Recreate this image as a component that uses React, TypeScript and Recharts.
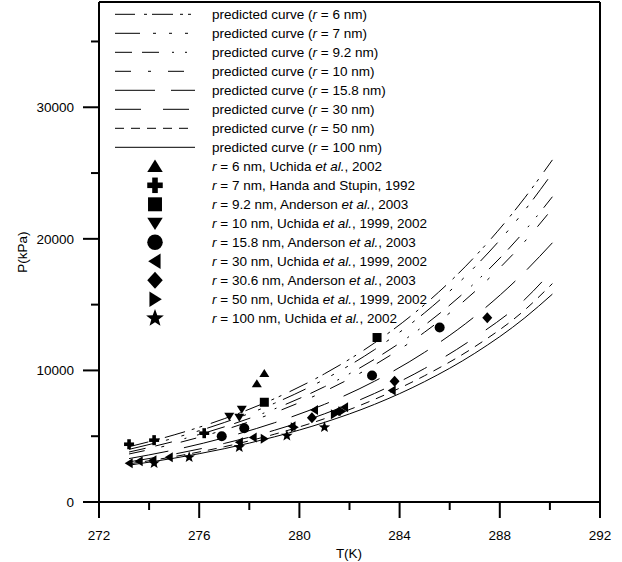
import React from 'react';
import { ComposedChart, Line, Scatter, XAxis, YAxis, Legend, ReferenceLine } from 'recharts';

// ---- predicted curves ----
const T_CURVE = [273.2, 275, 277, 279, 281, 283, 285, 287, 289, 290.1];
const P_R6 = [4200, 5100, 6330, 7850, 9740, 12090, 15010, 18640, 23130, 26000];
const P_R7 = [4000, 4860, 6040, 7500, 9320, 11580, 14380, 17860, 22180, 25000];
const P_R92 = [3800, 4610, 5710, 7070, 8760, 10850, 13440, 16650, 20620, 23200];
const P_R10 = [3650, 4420, 5480, 6790, 8410, 10420, 12910, 15990, 19810, 22300];
const P_R158 = [3300, 3960, 4880, 6020, 7420, 9180, 11380, 14100, 17500, 19700];
const P_R30 = [3050, 3640, 4450, 5450, 6700, 8250, 10150, 12500, 15400, 17600];
const P_R50 = [2900, 3450, 4200, 5150, 6330, 7800, 9600, 11800, 14600, 16600];
const P_R100 = [2800, 3330, 4050, 4950, 6050, 7420, 9150, 11300, 14000, 15800];

// ---- experimental points ----
const T_UP6 = [278.3, 278.6];
const P_UP6 = [9000, 9770];
const T_CROSS7 = [273.2, 274.2, 276.2];
const P_CROSS7 = [4390, 4700, 5230];
const T_SQ92 = [278.6, 283.1];
const P_SQ92 = [7580, 12500];
const T_DN10 = [277.2, 277.6, 277.7];
const P_DN10 = [6500, 6440, 7050];
const T_CIR158 = [276.9, 277.8, 282.9, 285.6];
const P_CIR158 = [5000, 5600, 9620, 13260];
const T_LEFT30 = [273.2, 273.6, 274.15, 274.8, 277.6, 278.15, 279.7, 280.6, 281.5, 281.8, 283.7];
const P_LEFT30 = [2950, 3100, 3180, 3400, 4550, 4900, 5760, 7000, 6900, 7200, 8480];
const T_DIA306 = [280.5, 283.8, 287.5];
const P_DIA306 = [6400, 9170, 14000];
const T_RIGHT50 = [278.6, 279.8, 281.4, 281.7];
const P_RIGHT50 = [4800, 5680, 6670, 6900];
const T_STAR100 = [274.2, 275.6, 277.6, 279.5, 281.0];
const P_STAR100 = [2950, 3400, 4170, 5040, 5680];

// ---- axes ----
const X_TICKS = [272, 274, 276, 278, 280, 282, 284, 286, 288, 290, 292];
const Y_TICKS = [0, 5000, 10000, 15000, 20000, 25000, 30000, 35000];
const X_DOMAIN = [272, 292];
const Y_DOMAIN = [0, 38000];

const FONT = '"Liberation Sans", Arial, Helvetica, sans-serif';

const zip = (ts: number[], ps: number[]) => ts.map((T, i) => ({ T, P: ps[i] }));

const CURVES = [
  { id: 'r6', r: '6', values: P_R6, dash: '20 9 3 5 21 7 3 5 3 9' },
  { id: 'r7', r: '7', values: P_R7, dash: '25 13 3 13 3 13 3 8' },
  { id: 'r92', r: '9.2', values: P_R92, dash: '17 10 17 13 2 11 2 10' },
  { id: 'r10', r: '10', values: P_R10, dash: '16 17 3 17' },
  { id: 'r158', r: '15.8', values: P_R158, dash: '40 16' },
  { id: 'r30', r: '30', values: P_R30, dash: '26 22' },
  { id: 'r50', r: '50', values: P_R50, dash: '9 7' },
  { id: 'r100', r: '100', values: P_R100, dash: '' },
];

type Part = [string, boolean];
const POINTS: { id: string; kind: string; T: number[]; P: number[]; text: Part[] }[] = [
  { id: 'up6', kind: 'triUp', T: T_UP6, P: P_UP6, text: [['r', true], [' = 6 nm, Uchida ', false], ['et al.', true], [', 2002', false]] },
  { id: 'cr7', kind: 'cross', T: T_CROSS7, P: P_CROSS7, text: [['r', true], [' = 7 nm, Handa and Stupin, 1992', false]] },
  { id: 'sq92', kind: 'square', T: T_SQ92, P: P_SQ92, text: [['r', true], [' = 9.2 nm, Anderson ', false], ['et al.', true], [', 2003', false]] },
  { id: 'dn10', kind: 'triDown', T: T_DN10, P: P_DN10, text: [['r', true], [' = 10 nm, Uchida ', false], ['et al.', true], [', 1999, 2002', false]] },
  { id: 'ci158', kind: 'circle', T: T_CIR158, P: P_CIR158, text: [['r', true], [' = 15.8 nm, Anderson ', false], ['et al.', true], [', 2003', false]] },
  { id: 'le30', kind: 'triLeft', T: T_LEFT30, P: P_LEFT30, text: [['r', true], [' = 30 nm, Uchida ', false], ['et al.', true], [', 1999, 2002', false]] },
  { id: 'di306', kind: 'diamond', T: T_DIA306, P: P_DIA306, text: [['r', true], [' = 30.6 nm, Anderson ', false], ['et al.', true], [', 2003', false]] },
  { id: 'ri50', kind: 'triRight', T: T_RIGHT50, P: P_RIGHT50, text: [['r', true], [' = 50 nm, Uchida ', false], ['et al.', true], [', 1999, 2002', false]] },
  { id: 'st100', kind: 'star', T: T_STAR100, P: P_STAR100, text: [['r', true], [' = 100 nm, Uchida ', false], ['et al.', true], [', 2002', false]] },
];

function Glyph({ kind, x, y, s }: { kind: string; x: number; y: number; s: number }) {
  const w = s;
  const h = s * 0.8;
  const f = '#000';
  switch (kind) {
    case 'triUp':
      return <polygon points={`${x},${y - h * 0.55} ${x + w / 2},${y + h * 0.45} ${x - w / 2},${y + h * 0.45}`} fill={f} />;
    case 'triDown':
      return <polygon points={`${x},${y + h * 0.55} ${x + w / 2},${y - h * 0.45} ${x - w / 2},${y - h * 0.45}`} fill={f} />;
    case 'triLeft':
      return <polygon points={`${x - h * 0.55},${y} ${x + h * 0.45},${y - w / 2} ${x + h * 0.45},${y + w / 2}`} fill={f} />;
    case 'triRight':
      return <polygon points={`${x + h * 0.55},${y} ${x - h * 0.45},${y - w / 2} ${x - h * 0.45},${y + w / 2}`} fill={f} />;
    case 'square': {
      const a = s * 0.9;
      return <rect x={x - a / 2} y={y - a / 2} width={a} height={a} fill={f} />;
    }
    case 'circle':
      return <circle cx={x} cy={y} r={s * 0.5} fill={f} />;
    case 'diamond':
      return <polygon points={`${x},${y - s * 0.55} ${x + s * 0.5},${y} ${x},${y + s * 0.55} ${x - s * 0.5},${y}`} fill={f} />;
    case 'cross': {
      const t = s * 0.36;
      return (
        <g fill={f}>
          <rect x={x - s / 2} y={y - t / 2} width={s} height={t} />
          <rect x={x - t / 2} y={y - s / 2} width={t} height={s} />
        </g>
      );
    }
    case 'star': {
      const R = s * 0.6;
      const r = s * 0.25;
      const pts: string[] = [];
      for (let i = 0; i < 10; i++) {
        const a = ((-90 + 36 * i) * Math.PI) / 180;
        const rr = i % 2 === 0 ? R : r;
        pts.push(`${x + rr * Math.cos(a)},${y + rr * Math.sin(a)}`);
      }
      return <polygon points={pts.join(' ')} fill={f} />;
    }
    default:
      return null;
  }
}

const XTick = (props: any) => {
  const { x, y, payload } = props;
  const v = payload.value;
  const major = Math.round(v - 272) % 4 === 0;
  return (
    <g>
      <line x1={x} x2={x} y1={y} y2={y + (major ? 16 : 8)} stroke="#000" strokeWidth={2} />
      {major && (
        <text x={x} y={y + 38} textAnchor="middle" fontSize={13.5} fontFamily={FONT} fill="#000">
          {v}
        </text>
      )}
    </g>
  );
};

const YTick = (props: any) => {
  const { x, y, payload } = props;
  const v = payload.value;
  const major = v % 10000 === 0;
  return (
    <g>
      <line x1={x - (major ? 16 : 8)} x2={x} y1={y} y2={y} stroke="#000" strokeWidth={2} />
      {major && (
        <text x={x - 25} y={y + 4.7} textAnchor="end" fontSize={13.5} fontFamily={FONT} fill="#000">
          {v}
        </text>
      )}
    </g>
  );
};

const LegendBox = () => {
  const rowY = (i: number) => 14.3 + 19 * i;
  return (
    <svg width={622} height={340} style={{ display: 'block' }}>
      {CURVES.map((c, i) => (
        <g key={c.id}>
          <line x1={115} x2={195} y1={rowY(i)} y2={rowY(i)} stroke="#000" strokeWidth={1} strokeDasharray={c.dash || undefined} />
          <text x={212} y={rowY(i) + 4.7} fontSize={13.5} fontFamily={FONT} fill="#000">
            predicted curve (<tspan fontStyle="italic">r</tspan> = {c.r} nm)
          </text>
        </g>
      ))}
      {POINTS.map((p, j) => {
        const y = rowY(CURVES.length + j);
        return (
          <g key={p.id}>
            <Glyph kind={p.kind} x={155} y={y} s={15.5} />
            <text x={212} y={y + 4.7} fontSize={13.5} fontFamily={FONT} fill="#000">
              {p.text.map((part, k) => (
                <tspan key={k} fontStyle={part[1] ? 'italic' : 'normal'}>
                  {part[0]}
                </tspan>
              ))}
            </text>
          </g>
        );
      })}
    </svg>
  );
};

export default function App() {
  return (
    <div style={{ position: 'absolute', left: 0, top: 0, background: '#fff' }}>
      <ComposedChart width={622} height={562} margin={{ top: 2, right: 22, bottom: 0, left: 39 }}>
        <XAxis
          dataKey="T"
          type="number"
          domain={X_DOMAIN}
          ticks={X_TICKS}
          interval={0}
          height={60}
          tickSize={0}
          tickMargin={0}
          tickLine={false}
          tick={<XTick />}
          axisLine={{ stroke: '#000', strokeWidth: 2 }}
          allowDataOverflow
          label={() => (
            <text x={349} y={557.5} textAnchor="middle" fontSize={13.5} fontFamily={FONT} fill="#000">
              T(K)
            </text>
          )}
        />
        <YAxis
          dataKey="P"
          type="number"
          domain={Y_DOMAIN}
          ticks={Y_TICKS}
          interval={0}
          width={60}
          tickSize={0}
          tickMargin={0}
          tickLine={false}
          tick={<YTick />}
          axisLine={{ stroke: '#000', strokeWidth: 2 }}
          allowDataOverflow
          label={() => (
            <text x={27} y={252} transform="rotate(-90 27 252)" textAnchor="middle" fontSize={13.5} fontFamily={FONT} fill="#000">
              P(kPa)
            </text>
          )}
        />
        <ReferenceLine y={38000} stroke="#000" strokeWidth={2} />
        <ReferenceLine x={292} stroke="#000" strokeWidth={2} />
        {CURVES.map((c) => (
          <Line
            key={c.id}
            data={zip(T_CURVE, c.values)}
            dataKey="P"
            type="monotone"
            stroke="#000"
            strokeWidth={1}
            strokeDasharray={c.dash || undefined}
            dot={false}
            activeDot={false}
            isAnimationActive={false}
            legendType="none"
          />
        ))}
        {POINTS.map((p) => (
          <Scatter
            key={p.id}
            data={zip(p.T, p.P)}
            dataKey="P"
            isAnimationActive={false}
            shape={(sp: any) => <Glyph kind={p.kind} x={sp.cx} y={sp.cy} s={10} />}
          />
        ))}
        <Legend
          layout="vertical"
          align="center"
          verticalAlign="middle"
          wrapperStyle={{ left: 0, top: 0, width: 622, height: 340 }}
          content={() => <LegendBox />}
        />
      </ComposedChart>
    </div>
  );
}
